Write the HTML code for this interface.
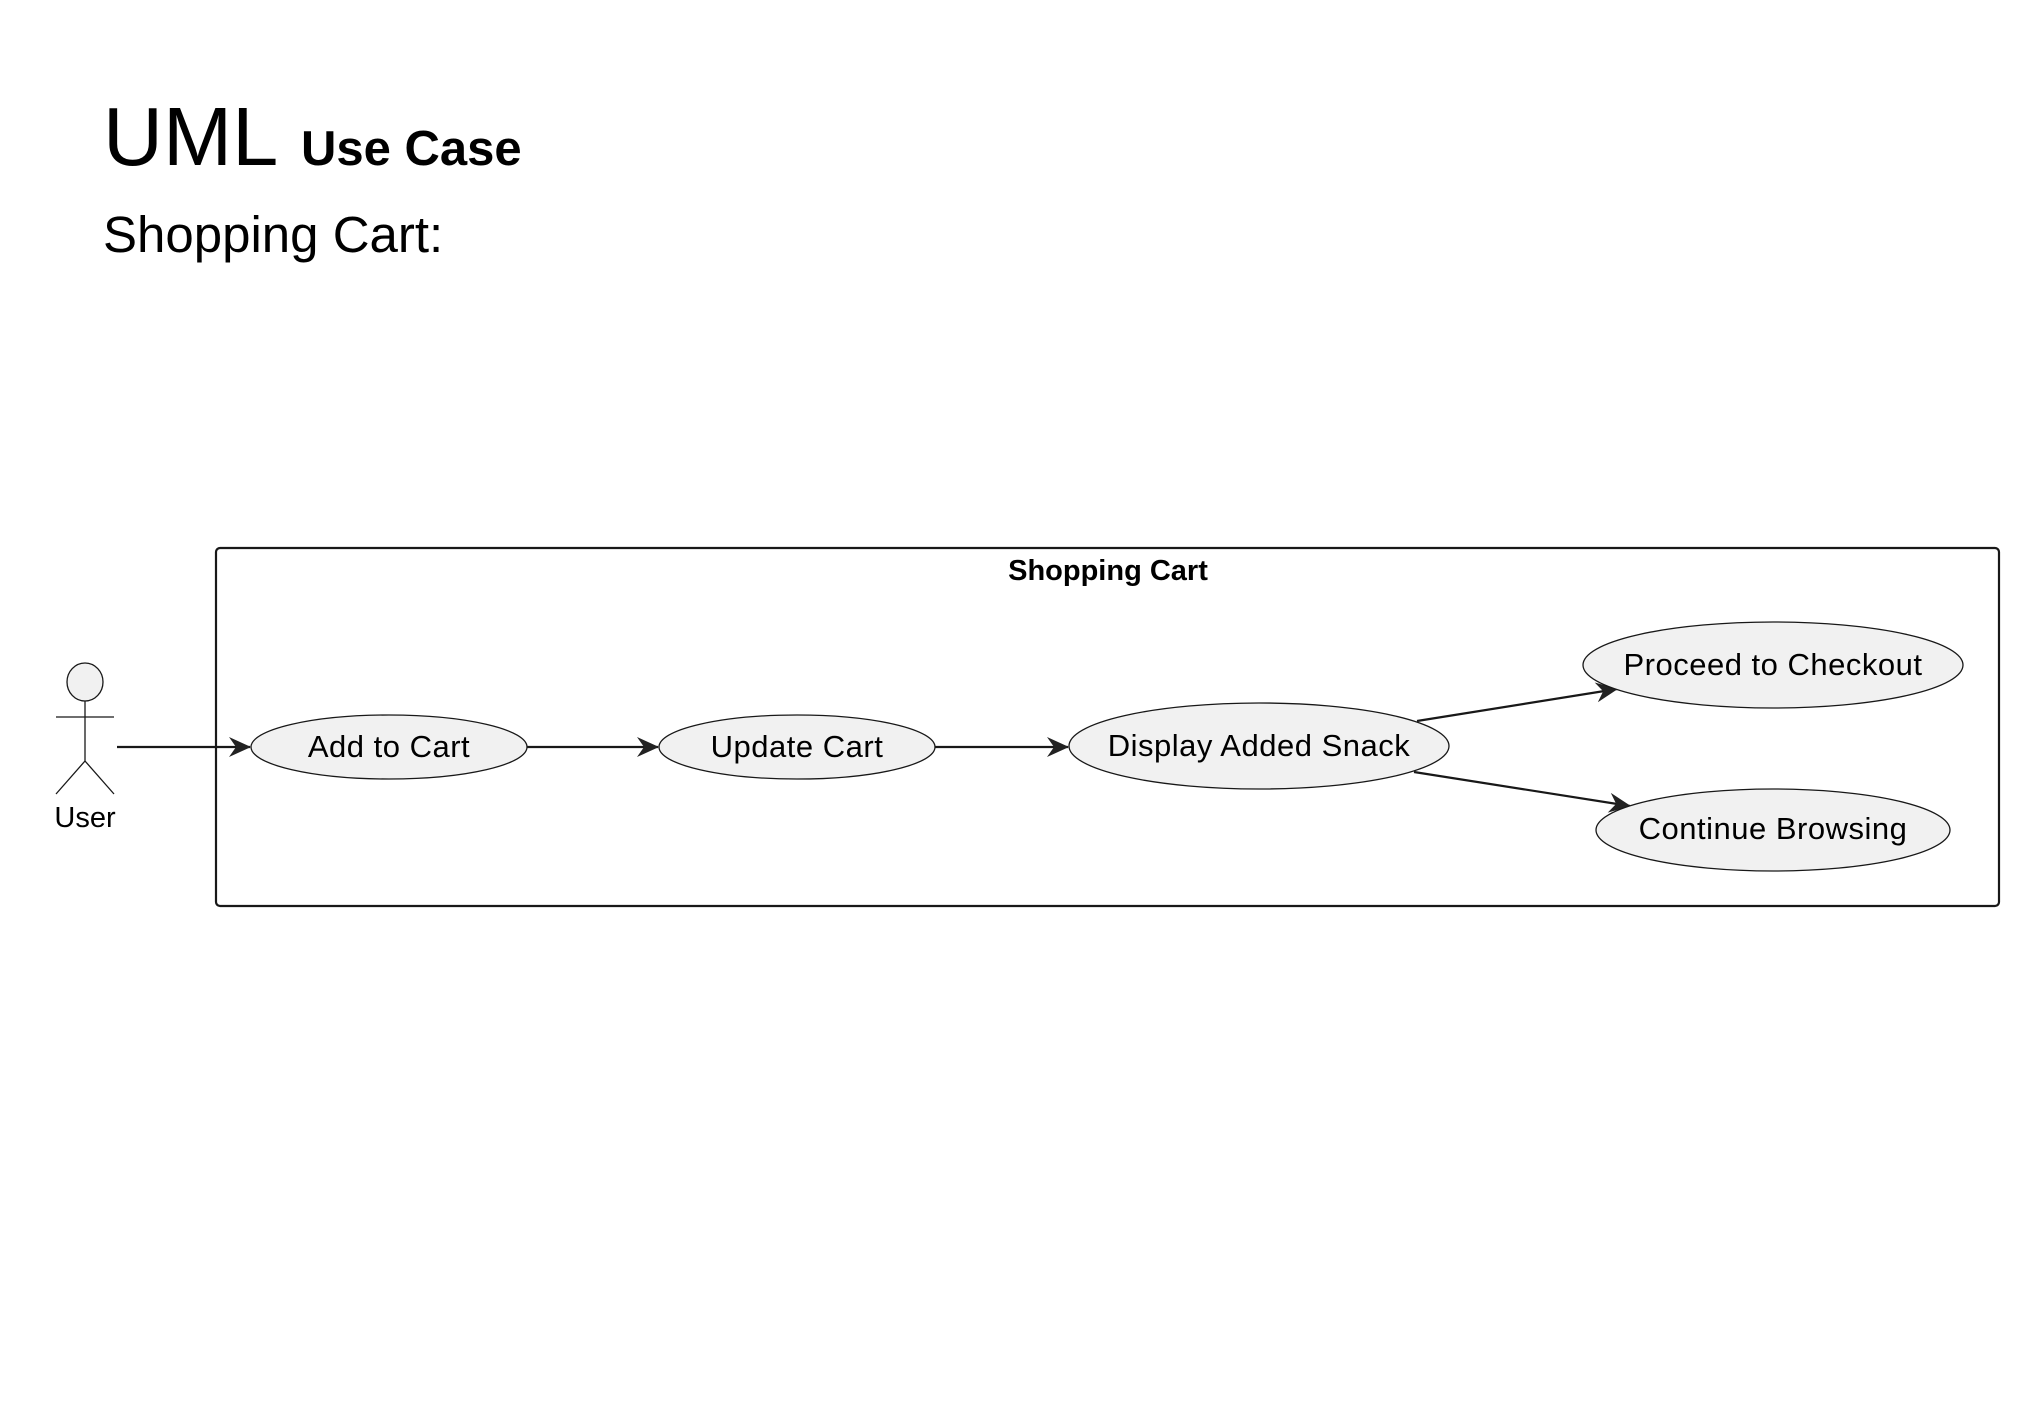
<!DOCTYPE html>
<html><head><meta charset="utf-8"><style>
html,body{margin:0;padding:0;background:#fff;width:2020px;height:1420px;overflow:hidden}
svg{display:block}
text{font-family:"Liberation Sans",sans-serif;fill:#000}
</style></head><body>
<svg width="2020" height="1420" viewBox="0 0 2020 1420">
<defs>
<marker id="a" markerWidth="24" markerHeight="24" refX="21" refY="12" orient="auto" markerUnits="userSpaceOnUse" viewBox="0 0 24 24">
<path d="M0,2 L22,12 L0,22 L7,12 Z" fill="#222"/>
</marker>
</defs>
<text x="103" y="165" font-size="83">UML</text>
<text x="301" y="165" font-size="49" font-weight="bold">Use Case</text>
<text x="103" y="252" font-size="51">Shopping Cart:</text>

<rect x="216" y="548" width="1783" height="358" rx="4" fill="none" stroke="#181818" stroke-width="2.2"/>
<text x="1108" y="580" font-size="29" font-weight="bold" text-anchor="middle">Shopping Cart</text>

<ellipse cx="85" cy="682" rx="18" ry="19" fill="#f1f1f1" stroke="#181818" stroke-width="1.3"/>
<line x1="85" y1="701" x2="85" y2="761" stroke="#181818" stroke-width="1.3"/>
<line x1="56" y1="717" x2="114" y2="717" stroke="#181818" stroke-width="1.3"/>
<line x1="85" y1="761" x2="56" y2="794" stroke="#181818" stroke-width="1.3"/>
<line x1="85" y1="761" x2="114" y2="794" stroke="#181818" stroke-width="1.3"/>
<text x="85" y="827" font-size="29" text-anchor="middle">User</text>

<g stroke="#181818" stroke-width="2.2" fill="none">
<line x1="117" y1="747" x2="250" y2="747" marker-end="url(#a)"/>
<line x1="527" y1="747" x2="658" y2="747" marker-end="url(#a)"/>
<line x1="935" y1="747" x2="1068" y2="747" marker-end="url(#a)"/>
<line x1="1417" y1="721" x2="1617" y2="689" marker-end="url(#a)"/>
<line x1="1414" y1="772" x2="1630" y2="806" marker-end="url(#a)"/>
</g>

<g fill="#f1f1f1" stroke="#181818" stroke-width="1.3">
<ellipse cx="389" cy="747" rx="138" ry="32"/>
<ellipse cx="797" cy="747" rx="138" ry="32"/>
<ellipse cx="1259" cy="746" rx="190" ry="43"/>
<ellipse cx="1773" cy="665" rx="190" ry="43"/>
<ellipse cx="1773" cy="830" rx="177" ry="41"/>
</g>
<g font-size="31" text-anchor="middle" letter-spacing="0.5">
<text x="389" y="757">Add to Cart</text>
<text x="797" y="757">Update Cart</text>
<text x="1259" y="756">Display Added Snack</text>
<text x="1773" y="675">Proceed to Checkout</text>
<text x="1773" y="839">Continue Browsing</text>
</g>
</svg>
</body></html>
